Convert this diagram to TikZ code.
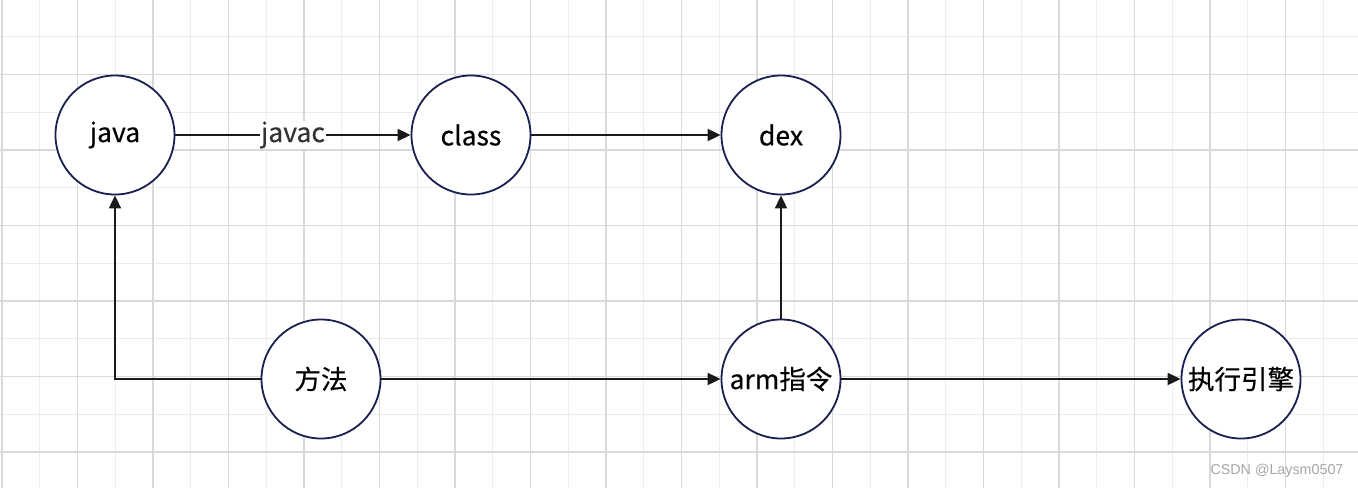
\documentclass[tikz,border=0pt]{standalone}
\usepackage{fontspec}
\setmainfont{Noto Sans CJK SC}
\newfontfamily\nodefont[FakeBold=0.4]{Noto Sans CJK SC}
\newfontfamily\wmfont{Liberation Sans}
\usetikzlibrary{arrows.meta}
\definecolor{griddark}{HTML}{D9D9D9}
\definecolor{gridlight}{HTML}{ECECEC}
\definecolor{nodeblue}{HTML}{1B1F4F}
\definecolor{linkblack}{HTML}{1A1A1A}
\definecolor{labelgray}{HTML}{333333}
\definecolor{wmgray}{HTML}{A6A6A6}
\begin{document}
\begin{tikzpicture}[x=1pt,y=-1pt,
  stage/.style={circle,draw=nodeblue,line width=1.8pt,fill=white,minimum size=119pt,inner sep=0pt,font=\nodefont\fontsize{26.5}{30}\selectfont},
  link/.style={line width=1.8pt,draw=linkblack,-{Triangle[length=13pt,width=12pt]}},
  gline/.style={line width=1.4pt}]
\useasboundingbox (0,0) rectangle (1358,488);
\fill[white] (0,0) rectangle (1358,488);
% grid
\foreach \k in {1,3,...,35} {\pgfmathsetmacro\gx{2+37.75*\k}\draw[gline,gridlight] (\gx,0) -- (\gx,488);}
\foreach \k in {1,3,...,13} {\pgfmathsetmacro\gy{-1+37.75*\k}\draw[gline,gridlight] (0,\gy) -- (1358,\gy);}
\foreach \k in {0,2,...,34} {\pgfmathsetmacro\gx{2+37.75*\k}\draw[gline,griddark] (\gx,0) -- (\gx,488);}
\foreach \k in {2,4,...,12} {\pgfmathsetmacro\gy{-1+37.75*\k}\draw[gline,griddark] (0,\gy) -- (1358,\gy);}
% nodes
\node[stage] (java) at (115,135) {java};
\node[stage] (class) at (471,135) {class};
\node[stage] (dex) at (781,135) {dex};
\node[stage] (method) at (321,379) {方法};
\node[stage] (arm) at (781,379) {arm指令};
\node[stage] (engine) at (1241,379) {执行引擎};
% connectors
\draw[link] (java) -- node[fill=white,inner sep=1pt,text=labelgray,font=\nodefont\fontsize{26.5}{30}\selectfont] (javac) {javac} (class);
\draw[link] (class) -- (dex);
\draw[link] (method.west) -| (java.south);
\draw[link] (method) -- (arm);
\draw[link] (arm) -- (dex);
\draw[link] (arm) -- (engine);
% watermark
\node[text=wmgray,font=\wmfont\fontsize{14.3}{17}\selectfont,inner sep=0pt] (wm) at (1277,471) {CSDN @Laysm0507};
\end{tikzpicture}
\end{document}
